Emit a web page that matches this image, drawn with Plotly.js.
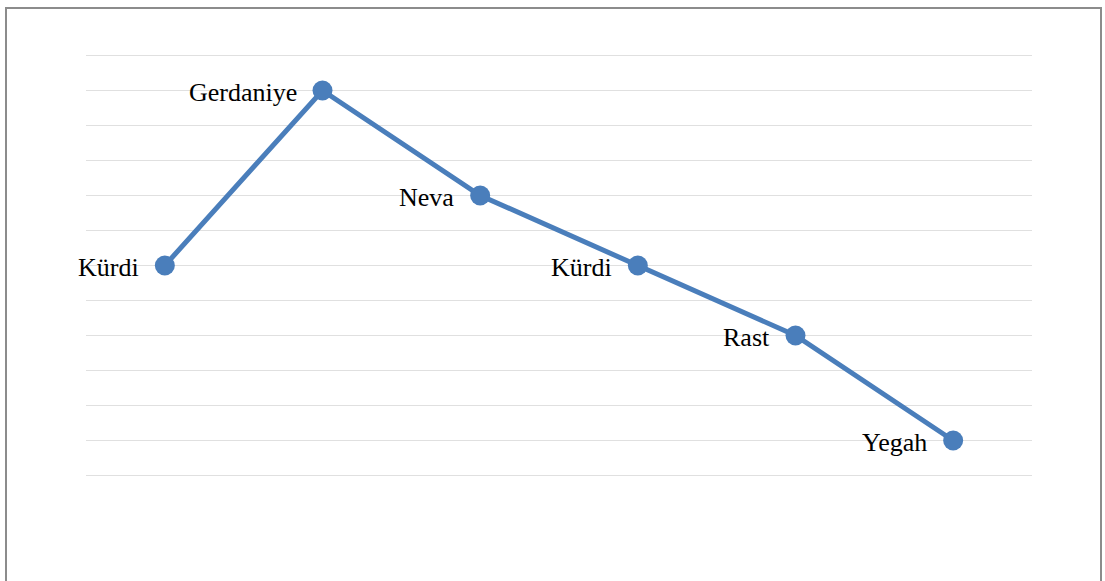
<!DOCTYPE html>
<html>
<head>
<meta charset="utf-8">
<script src="https://cdn.plot.ly/plotly-3.0.1.min.js"></script>
<style>
  html, body { margin: 0; padding: 0; background: #ffffff; }
  #frame {
    position: absolute; left: 5px; top: 7px; width: 1097px; height: 600px;
    border: 2px solid #8c8c8c; box-sizing: border-box; pointer-events: none; z-index: 2;
  }
  #chart { position: absolute; left: 0; top: 0; width: 1105px; height: 581px; }
</style>
</head>
<body>
<div id="chart"></div>
<div id="frame"></div>
<script>
// Makam sequence and its pitch levels
const makamNames = ["Kürdi", "Gerdaniye", "Neva", "Kürdi", "Rast", "Yegah"];
const levels = [6, 11, 8, 6, 4, 1];
const positions = makamNames.map((_, i) => i);

const blue = "#4a7ebb";

const trace = {
  x: positions,
  y: levels,
  type: "scatter",
  mode: "lines+markers",
  line: { color: blue, width: 5 },
  marker: { color: blue, size: 20 },
  hoverinfo: "skip",
  cliponaxis: false
};

// Name labels sit to the left of each point
const labels = positions.map((x, i) => ({
  x: x,
  y: levels[i],
  xref: "x",
  yref: "y",
  text: makamNames[i],
  showarrow: false,
  xanchor: "right",
  yanchor: "middle",
  xshift: -24,
  yshift: -2,
  font: { family: "Liberation Serif", size: 26, color: "#000000" }
}));

const layout = {
  width: 1105,
  height: 581,
  margin: { l: 86, r: 73, t: 52, b: 102 },
  paper_bgcolor: "#ffffff",
  plot_bgcolor: "#ffffff",
  showlegend: false,
  annotations: labels,
  xaxis: {
    range: [-0.5, 5.5],
    showgrid: false, zeroline: false, showline: false,
    showticklabels: false, ticks: ""
  },
  yaxis: {
    range: [-0.1, 12.1],
    tick0: 0,
    dtick: 1,
    showgrid: true, gridcolor: "#e0e0e0", gridwidth: 1,
    zeroline: false, showline: false,
    showticklabels: false, ticks: ""
  }
};

Plotly.newPlot("chart", [trace], layout, { staticPlot: true });
</script>
</body>
</html>
